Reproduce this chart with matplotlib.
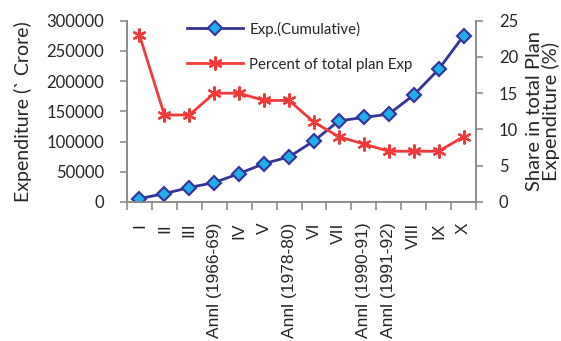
import matplotlib
matplotlib.use("Agg")
from matplotlib import pyplot as plt
import numpy as np

# plan periods and their spending
plans = ["I", "II", "III", "Annl (1966-69)", "IV", "V", "Annl (1978-80)",
         "VI", "VII", "Annl (1990-91)", "Annl (1991-92)", "VIII", "IX", "X"]
exp_cumulative = [5600, 13900, 23900, 32200, 47000, 63600, 74600,
                  101100, 134300, 139900, 145400, 176900, 219400, 275100]
pct_of_total = [23, 12, 12, 15, 15, 14, 14, 11, 9, 8, 7, 7, 7, 9]

navy = "#333399"
red = "#F23A3A"
grey = "#8C8C8C"
txt = "#262626"

fig = plt.figure(figsize=(5.61, 3.41), dpi=100)
ax = fig.add_axes([127 / 561, 1 - 202 / 341, 349 / 561, 181.3 / 341])
ax2 = ax.twinx()

x = np.arange(len(plans))
l1, = ax.plot(x, exp_cumulative, color=navy, lw=2.0, marker="D", ms=7.5,
              mfc="#1EAEEA", mec=navy, mew=1.5, label="Exp.(Cumulative)", zorder=3)
l2, = ax2.plot(x, pct_of_total, color=red, lw=2.0, marker=(6, 2, 0), ms=10,
               mec=red, mew=1.6, label="Percent of total plan Exp")

ax.set_xlim(-0.5, len(plans) - 0.5)
ax.set_ylim(0, 300000)
ax2.set_ylim(0, 25)
ax.set_yticks(np.arange(0, 300001, 50000))
ax2.set_yticks(np.arange(0, 26, 5))

# category labels in the middle, tick marks on the boundaries
ax.set_xticks(x)
ax.set_xticklabels(plans, rotation=90, fontsize=12.5, family="Liberation Sans",
                   color=txt)
ax.set_xticks(np.arange(-0.5, len(plans)), minor=True)
ax.tick_params(axis="x", which="major", length=0, pad=15)
ax.tick_params(axis="x", which="minor", length=6, color=grey, width=1.2)

for a in (ax, ax2):
    a.spines["top"].set_visible(False)
    for s in ("left", "right", "bottom"):
        a.spines[s].set_color(grey)
        a.spines[s].set_linewidth(1.2)
    a.tick_params(axis="y", length=5, color=grey, width=1.2, labelsize=12,
                  labelcolor=txt, pad=11.5)
for lab in ax.get_yticklabels() + ax2.get_yticklabels():
    lab.set_family("Lato")

ax.set_ylabel("Expenditure (` Crore)", fontsize=14, family="Lato", color=txt,
              labelpad=10)
ax2.set_ylabel("Share in total Plan\nExpenditure (%)", fontsize=14.5,
               family="Lato", color=txt, labelpad=6, linespacing=0.9)

leg = ax.legend(handles=[l1, l2], loc="upper left", bbox_to_anchor=(0.172, 0.995),
                frameon=False, borderpad=0, borderaxespad=0, handlelength=3.7,
                handletextpad=0.45, labelspacing=1.4,
                prop={"family": "Lato", "size": 10.8})
for t in leg.get_texts():
    t.set_color(txt)

fig.savefig("out.png", dpi=100)
